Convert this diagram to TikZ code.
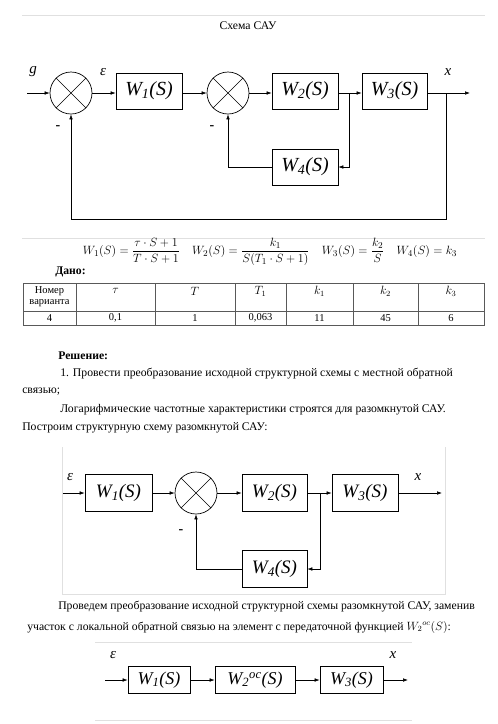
\documentclass[tikz,border=0pt]{standalone}
\usepackage{amsmath}
\usepackage{fontspec}
\IfFontExistsTF{LiberationSerif-Regular.ttf}{%
  \setmainfont{LiberationSerif}[Extension=.ttf,UprightFont=*-Regular,ItalicFont=*-Italic,BoldFont=*-Bold,BoldItalicFont=*-BoldItalic]}{%
  \setmainfont{Liberation Serif}}
\usetikzlibrary{arrows.meta,calc}
\begin{document}
\begin{tikzpicture}[x=1pt,y=-1pt,
  line width=0.6pt,
  blk/.style={draw,line width=0.7pt,minimum width=66pt,minimum height=36pt,inner sep=0pt,font=\fontsize{20}{20}\selectfont\itshape},
  blkb/.style={blk,minimum width=65pt,minimum height=37pt,font=\fontsize{19}{19}\selectfont\itshape},
  blkc/.style={blk,minimum width=62pt,minimum height=27pt,font=\fontsize{18}{18}\selectfont\itshape},
  sumnode/.style={draw,line width=0.7pt,circle,minimum size=42pt,inner sep=0pt},
  arr/.style={-{Latex[length=5pt,width=3.6pt]}},
  lbl/.style={inner sep=0pt,font=\fontsize{15}{15}\selectfont\itshape},
  minus/.style={inner sep=0pt,font=\fontsize{14}{14}\selectfont\bfseries},
  body/.style={anchor=west,inner sep=0pt,font=\fontsize{11.7}{14}\selectfont},
  cell/.style={inner sep=0pt,font=\fontsize{10.5}{12}\selectfont},
  gline/.style={draw=black!12,line width=0.8pt},
  tline/.style={draw=black!65,line width=0.5pt},
]
\useasboundingbox (0,0) rectangle (498,724);
\fill[white] (0,0) rectangle (498,724);

% ---------- top rule and title
\draw[gline] (22,15) -- (485,15);
\node[inner sep=0pt,font=\fontsize{11.7}{14}\selectfont] (title) at (248,26) {Схема САУ};

% ---------- diagram 1
\coordinate (in1) at (27,93);
\node[sumnode] (s1) at (71,93) {};
\draw (s1.north east) -- (s1.south west) (s1.north west) -- (s1.south east);
\node[blk] (w1) at (149,91) {W\textsubscript{1}(S)};
\node[sumnode] (s2) at (228,93) {};
\draw (s2.north east) -- (s2.south west) (s2.north west) -- (s2.south east);
\node[blk] (w2) at (305,91) {W\textsubscript{2}(S)};
\node[blk,minimum width=65pt] (w3) at (394.5,91) {W\textsubscript{3}(S)};
\node[blk] (w4) at (305,167) {W\textsubscript{4}(S)};
\coordinate (b1) at (349,93);
\coordinate (b2) at (446,93);
\coordinate (out1) at (470,93);
\coordinate (fb1) at (446,219);
\draw[arr] (in1) -- (s1.west);
\draw[arr] (s1.east) -- (s1.east -| w1.west);
\draw[arr] (w1.east |- s2) -- (s2.west);
\draw[arr] (s2.east) -- (s2.east -| w2.west);
\draw[arr] (w2.east |- b1) -- (b1 -| w3.west);
\draw[arr] (w3.east |- b2) -- (out1);
\draw[arr] (b1) |- (w4.east);
\draw[arr] (w4.west) -| (s2.south);
\draw[arr] (b2) -- (fb1) -| (s1.south);
\node[lbl] (g) at (33,72) {g};
\node[lbl] (e1) at (103,72) {ε};
\node[lbl] (x1) at (448,72) {x};
\node[minus] (m1) at (58,128) {-};
\node[minus] (m2) at (212,128) {-};

% ---------- formulas
\draw[gline] (22,238) -- (485,238);
\node[inner sep=0pt,font=\fontsize{12.2}{14}\selectfont] (form) at (270,252)
 {$W_1(S)=\dfrac{\tau\cdot S+1}{T\cdot S+1}\quad W_2(S)=\dfrac{k_1}{S(T_1\cdot S+1)}\quad W_3(S)=\dfrac{k_2}{S}\quad W_4(S)=k_3$};
\node[body,font=\fontsize{11.7}{14}\selectfont\bfseries] (dano) at (55,272) {Дано:};

% ---------- table
\draw[tline] (23,283) rectangle (484,325);
\draw[tline] (23,311) -- (484,311);
\foreach \xx in {76,155,235,286,353,418} \draw[tline] (\xx,283) -- (\xx,325);
\node[cell] (h1a) at (49.5,291) {Номер};
\node[cell] (h1b) at (49.5,303) {варианта};
\node[cell,font=\fontsize{12}{12}\selectfont] (h2) at (115.5,291) {$\tau$};
\node[cell,font=\fontsize{12}{12}\selectfont] (h3) at (195,291) {$T$};
\node[cell,font=\fontsize{12}{12}\selectfont] (h4) at (260.5,291) {$T_1$};
\node[cell,font=\fontsize{12}{12}\selectfont] (h5) at (319.5,291) {$k_1$};
\node[cell,font=\fontsize{12}{12}\selectfont] (h6) at (385.5,291) {$k_2$};
\node[cell,font=\fontsize{12}{12}\selectfont] (h7) at (451,291) {$k_3$};
\node[cell] (d1) at (49.5,318) {4};
\node[cell] (d2) at (115.5,318) {0,1};
\node[cell] (d3) at (195,318) {1};
\node[cell] (d4) at (260.5,318) {0,063};
\node[cell] (d5) at (319.5,318) {11};
\node[cell] (d6) at (385.5,318) {45};
\node[cell] (d7) at (451,318) {6};

% ---------- text
\node[body,font=\fontsize{11.7}{14}\selectfont\bfseries] (resh) at (58,356) {Решение:};
\node[body] (t1) at (60,374) {1. Провести преобразование исходной структурной схемы с местной обратной};
\node[body] (t2) at (22,392) {связью;};
\node[body] (t3) at (60,410) {Логарифмические частотные характеристики строятся для разомкнутой САУ.};
\node[body] (t4) at (22,428) {Построим структурную схему разомкнутой САУ:};

% ---------- diagram 2
\draw[gline] (62,447) -- (62,594) -- (445,594) -- (445,447);
\coordinate (in2) at (63,493);
\node[blkb,minimum width=67pt] (v1) at (118.5,493) {W\textsubscript{1}(S)};
\node[sumnode] (s3) at (196,493) {};
\draw (s3.north east) -- (s3.south west) (s3.north west) -- (s3.south east);
\node[blkb] (v2) at (274.5,493) {W\textsubscript{2}(S)};
\node[blkb,minimum width=66pt] (v3) at (365,493) {W\textsubscript{3}(S)};
\node[blkb] (v4) at (274.5,569) {W\textsubscript{4}(S)};
\coordinate (b3) at (320,493);
\coordinate (out2) at (442,493);
\draw[arr] (in2) -- (v1.west);
\draw[arr] (v1.east) -- (s3.west);
\draw[arr] (s3.east) -- (v2.west);
\draw[arr] (v2.east) -- (v3.west);
\draw[arr] (v3.east) -- (out2);
\draw[arr] (b3) |- (v4.east);
\draw[arr] (v4.west) -| (s3.south);
\node[lbl] (e2) at (70,477) {ε};
\node[lbl] (x2) at (418,477) {x};
\node[minus] (m3) at (181,532) {-};

\node[body] (t5) at (58,607) {Проведем преобразование исходной структурной схемы разомкнутой САУ, заменив};
\node[body] (t6) at (27,627) {участок с локальной обратной связью на элемент с передаточной функцией $W_2{}^{oc}(S)$:};

% ---------- diagram 3
\draw[gline] (95,642) -- (412,642);
\draw[gline] (95,720) -- (412,720);
\coordinate (in3) at (105,680);
\node[blkc] (u1) at (159,680) {W\textsubscript{1}(S)};
\node[blkc,minimum width=80pt] (u2) at (255,680) {W\textsubscript{2}\textsuperscript{oc}(S)};
\node[blkc,minimum width=63pt] (u3) at (351.5,680) {W\textsubscript{3}(S)};
\coordinate (out3) at (408,680);
\draw[arr] (in3) -- (u1.west);
\draw[arr] (u1.east) -- (u2.west);
\draw[arr] (u2.east) -- (u3.west);
\draw[arr] (u3.east) -- (out3);
\node[lbl] (e3) at (113,655) {ε};
\node[lbl] (x3) at (393,655) {x};
\end{tikzpicture}
\end{document}
